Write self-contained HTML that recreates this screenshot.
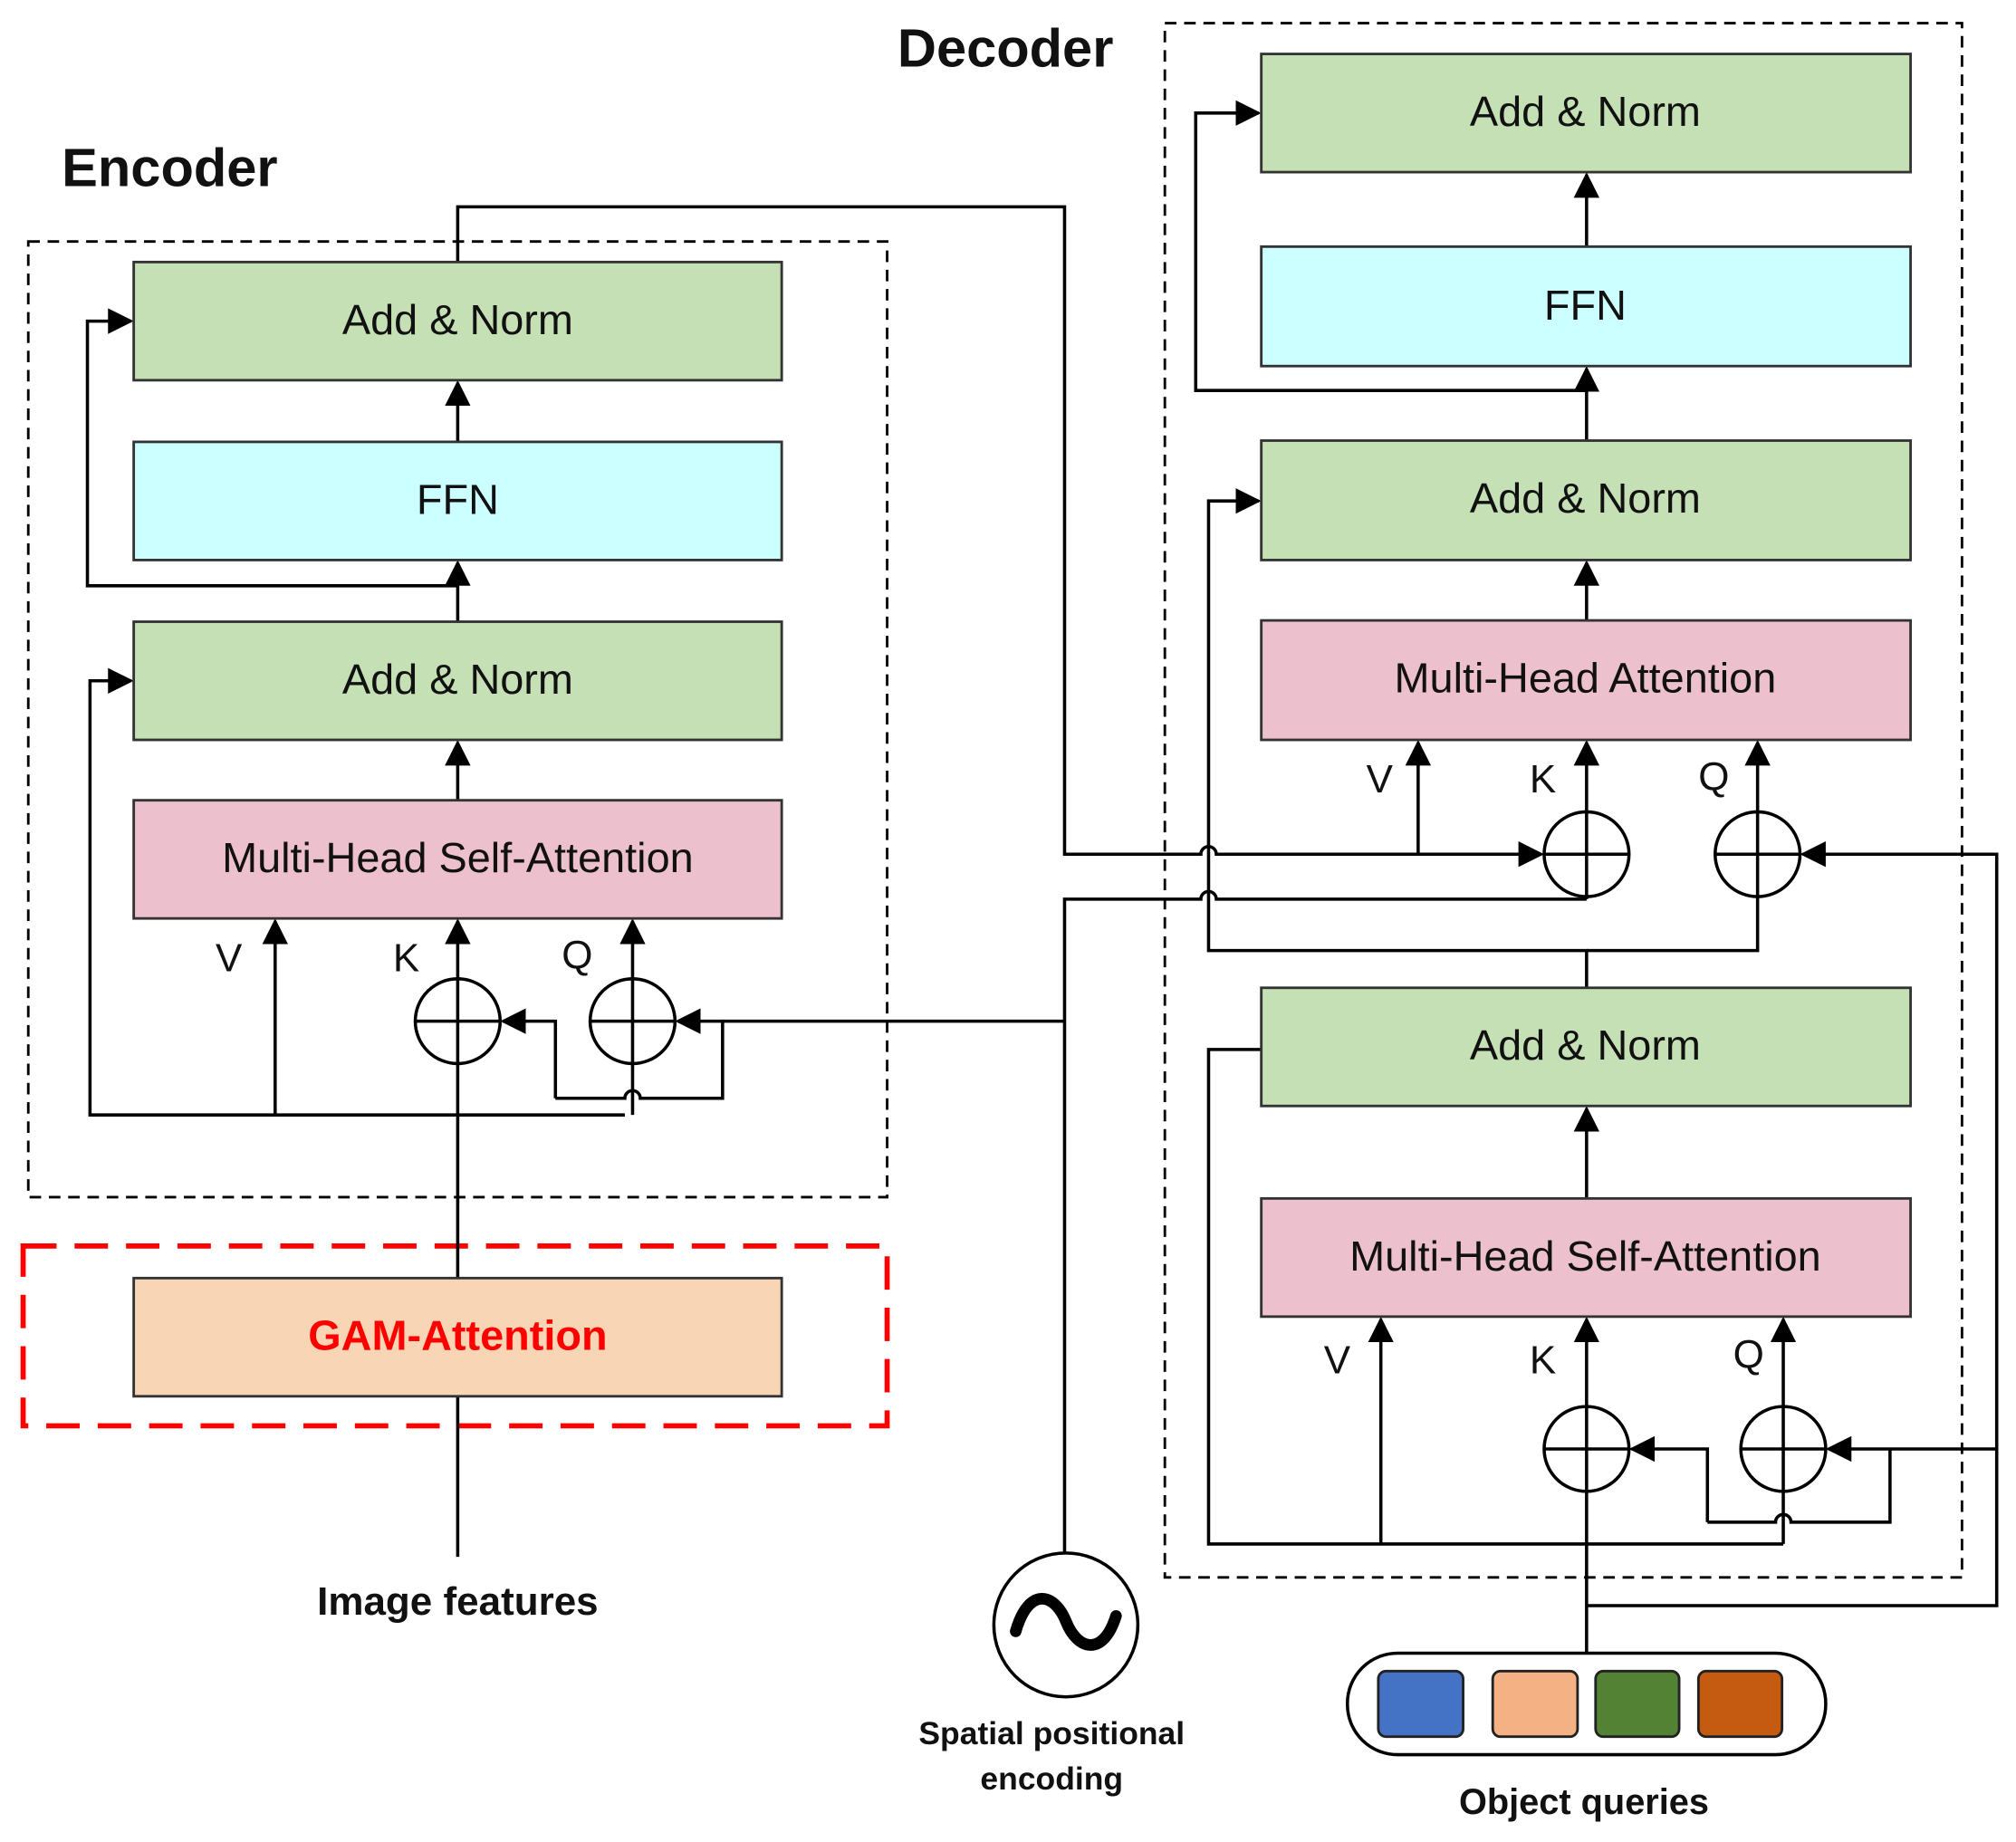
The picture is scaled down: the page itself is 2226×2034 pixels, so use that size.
<!DOCTYPE html>
<html><head><style>html,body{margin:0;padding:0;background:#fff}svg{display:block}</style></head>
<body>
<svg width="2226" height="2034" viewBox="0 0 1568 1434" preserveAspectRatio="none" xmlns="http://www.w3.org/2000/svg" font-family="Liberation Sans, sans-serif">
<defs>
<marker id="b" viewBox="0 0 10 10" refX="9" refY="5" markerWidth="20" markerHeight="20" markerUnits="userSpaceOnUse" orient="auto"><path d="M0,0 L10,5 L0,10 z" fill="#000"/></marker>
</defs>
<g fill="none" stroke="#000" stroke-width="2" stroke-dasharray="9,6">
<rect x="22" y="188" width="668" height="744"/>
<rect x="906" y="18" width="620" height="1210"/>
</g>
<rect x="18" y="970" width="672" height="140" fill="none" stroke="#f00" stroke-width="4" stroke-dasharray="26,14"/>
<g fill="none" stroke="#000" stroke-width="2.5">
<!-- encoder -->
<path d="M356,1212 V1087"/>
<path d="M356,995 V717" marker-end="url(#b)"/>
<path d="M356,623 V578" marker-end="url(#b)"/>
<path d="M356,484 V438" marker-end="url(#b)"/>
<path d="M356,344 V298" marker-end="url(#b)"/>
<path d="M356,456 H68 V250 H102" marker-end="url(#b)"/>
<path d="M486,868 H70 V530 H102" marker-end="url(#b)"/>
<path d="M214,868 V717" marker-end="url(#b)"/>
<path d="M492,868 V717" marker-end="url(#b)"/>
<path d="M432,855 H486 A6,6 0 0 1 498,855 H562 V795 H527" marker-end="url(#b)"/>
<path d="M432,855 V795 H391" marker-end="url(#b)"/>
<path d="M828,795 H562"/>
<path d="M356,204 V161 H828 V665 H934 A6,6 0 0 1 946,665 H1199" marker-end="url(#b)"/>
<!-- positional -->
<path d="M828,1210 V700 H934 A6,6 0 0 1 946,700 H1234"/>
<!-- decoder upper -->
<path d="M1103,665 V578" marker-end="url(#b)"/>
<path d="M1234,700 V578" marker-end="url(#b)"/>
<path d="M1234,769 V740 H940 V390 H979" marker-end="url(#b)"/>
<path d="M1234,740 H1367 V578" marker-end="url(#b)"/>
<path d="M1234,483 V438" marker-end="url(#b)"/>
<path d="M1234,343 V287" marker-end="url(#b)"/>
<path d="M1234,304 H930 V88 H979" marker-end="url(#b)"/>
<path d="M1234,192 V136" marker-end="url(#b)"/>
<path d="M1234,933 V863" marker-end="url(#b)"/>
<!-- decoder lower -->
<path d="M1234,1287 V1027" marker-end="url(#b)"/>
<path d="M1234,1250 H1553 V665 H1402" marker-end="url(#b)"/>
<path d="M1553,1128 H1422" marker-end="url(#b)"/>
<path d="M1387,1202 H940 V817 H981"/>
<path d="M1074,1202 V1027" marker-end="url(#b)"/>
<path d="M1387,1202 V1027" marker-end="url(#b)"/>
<path d="M1328,1185 H1381 A6,6 0 0 1 1393,1185 H1470 V1128"/>
<path d="M1328,1185 V1128 H1269" marker-end="url(#b)"/>
<!-- circles -->
<circle cx="356" cy="795" r="33"/><path d="M323,795 H389"/>
<circle cx="492" cy="795" r="33"/><path d="M459,795 H525"/>
<circle cx="1234" cy="665" r="33"/><path d="M1201,665 H1267"/>
<circle cx="1367" cy="665" r="33"/><path d="M1334,665 H1400"/>
<circle cx="1234" cy="1128" r="33"/><path d="M1201,1128 H1267"/>
<circle cx="1387" cy="1128" r="33"/><path d="M1354,1128 H1420"/>
<circle cx="829" cy="1265" r="56"/>
<path d="M790,1270 C800,1235 820,1240 829,1262 C838,1285 858,1290 868,1258" stroke-width="9" stroke-linecap="round"/>
<rect x="1048" y="1287" width="372" height="79" rx="39"/>
</g>
<g stroke="#333" stroke-width="2">
<rect x="104" y="204" width="504" height="92" fill="#c5e0b4"/>
<rect x="104" y="344" width="504" height="92" fill="#ccffff"/>
<rect x="104" y="484" width="504" height="92" fill="#c5e0b4"/>
<rect x="104" y="623" width="504" height="92" fill="#ecc1cd"/>
<rect x="104" y="995" width="504" height="92" fill="#f8d5b4"/>
<rect x="981" y="42" width="505" height="92" fill="#c5e0b4"/>
<rect x="981" y="192" width="505" height="93" fill="#ccffff"/>
<rect x="981" y="343" width="505" height="93" fill="#c5e0b4"/>
<rect x="981" y="483" width="505" height="93" fill="#ecc1cd"/>
<rect x="981" y="769" width="505" height="92" fill="#c5e0b4"/>
<rect x="981" y="933" width="505" height="92" fill="#ecc1cd"/>
</g>
<g font-size="33" text-anchor="middle" fill="#111">
<text x="356" y="260">Add &amp; Norm</text>
<text x="356" y="400">FFN</text>
<text x="356" y="540">Add &amp; Norm</text>
<text x="356" y="679">Multi-Head Self-Attention</text>
<text x="356" y="1051" fill="#f00" font-weight="bold">GAM-Attention</text>
<text x="1233" y="98">Add &amp; Norm</text>
<text x="1233" y="249">FFN</text>
<text x="1233" y="399">Add &amp; Norm</text>
<text x="1233" y="539">Multi-Head Attention</text>
<text x="1233" y="825">Add &amp; Norm</text>
<text x="1233" y="989">Multi-Head Self-Attention</text>
</g>
<g font-size="31" text-anchor="middle" fill="#111">
<text x="178" y="756">V</text><text x="316" y="756">K</text><text x="449" y="754">Q</text>
<text x="1073" y="617">V</text><text x="1200" y="617">K</text><text x="1333" y="615">Q</text>
<text x="1040" y="1069">V</text><text x="1200" y="1069">K</text><text x="1360" y="1065">Q</text>
</g>
<g font-weight="bold" fill="#111">
<text x="48" y="145" font-size="42">Encoder</text>
<text x="698" y="52" font-size="42">Decoder</text>
<text x="356" y="1257" font-size="31" text-anchor="middle">Image features</text>
<text x="818" y="1358" font-size="25" text-anchor="middle">Spatial positional</text>
<text x="818" y="1393" font-size="25" text-anchor="middle">encoding</text>
<text x="1232" y="1412" font-size="28" text-anchor="middle">Object queries</text>
</g>
<g stroke="#222" stroke-width="2">
<rect x="1072" y="1301" width="66" height="51" rx="6" fill="#4472c4"/>
<rect x="1161" y="1301" width="66" height="51" rx="6" fill="#f4b183"/>
<rect x="1241" y="1301" width="65" height="51" rx="6" fill="#548235"/>
<rect x="1321" y="1301" width="65" height="51" rx="6" fill="#c55a11"/>
</g>
</svg>
</body></html>
